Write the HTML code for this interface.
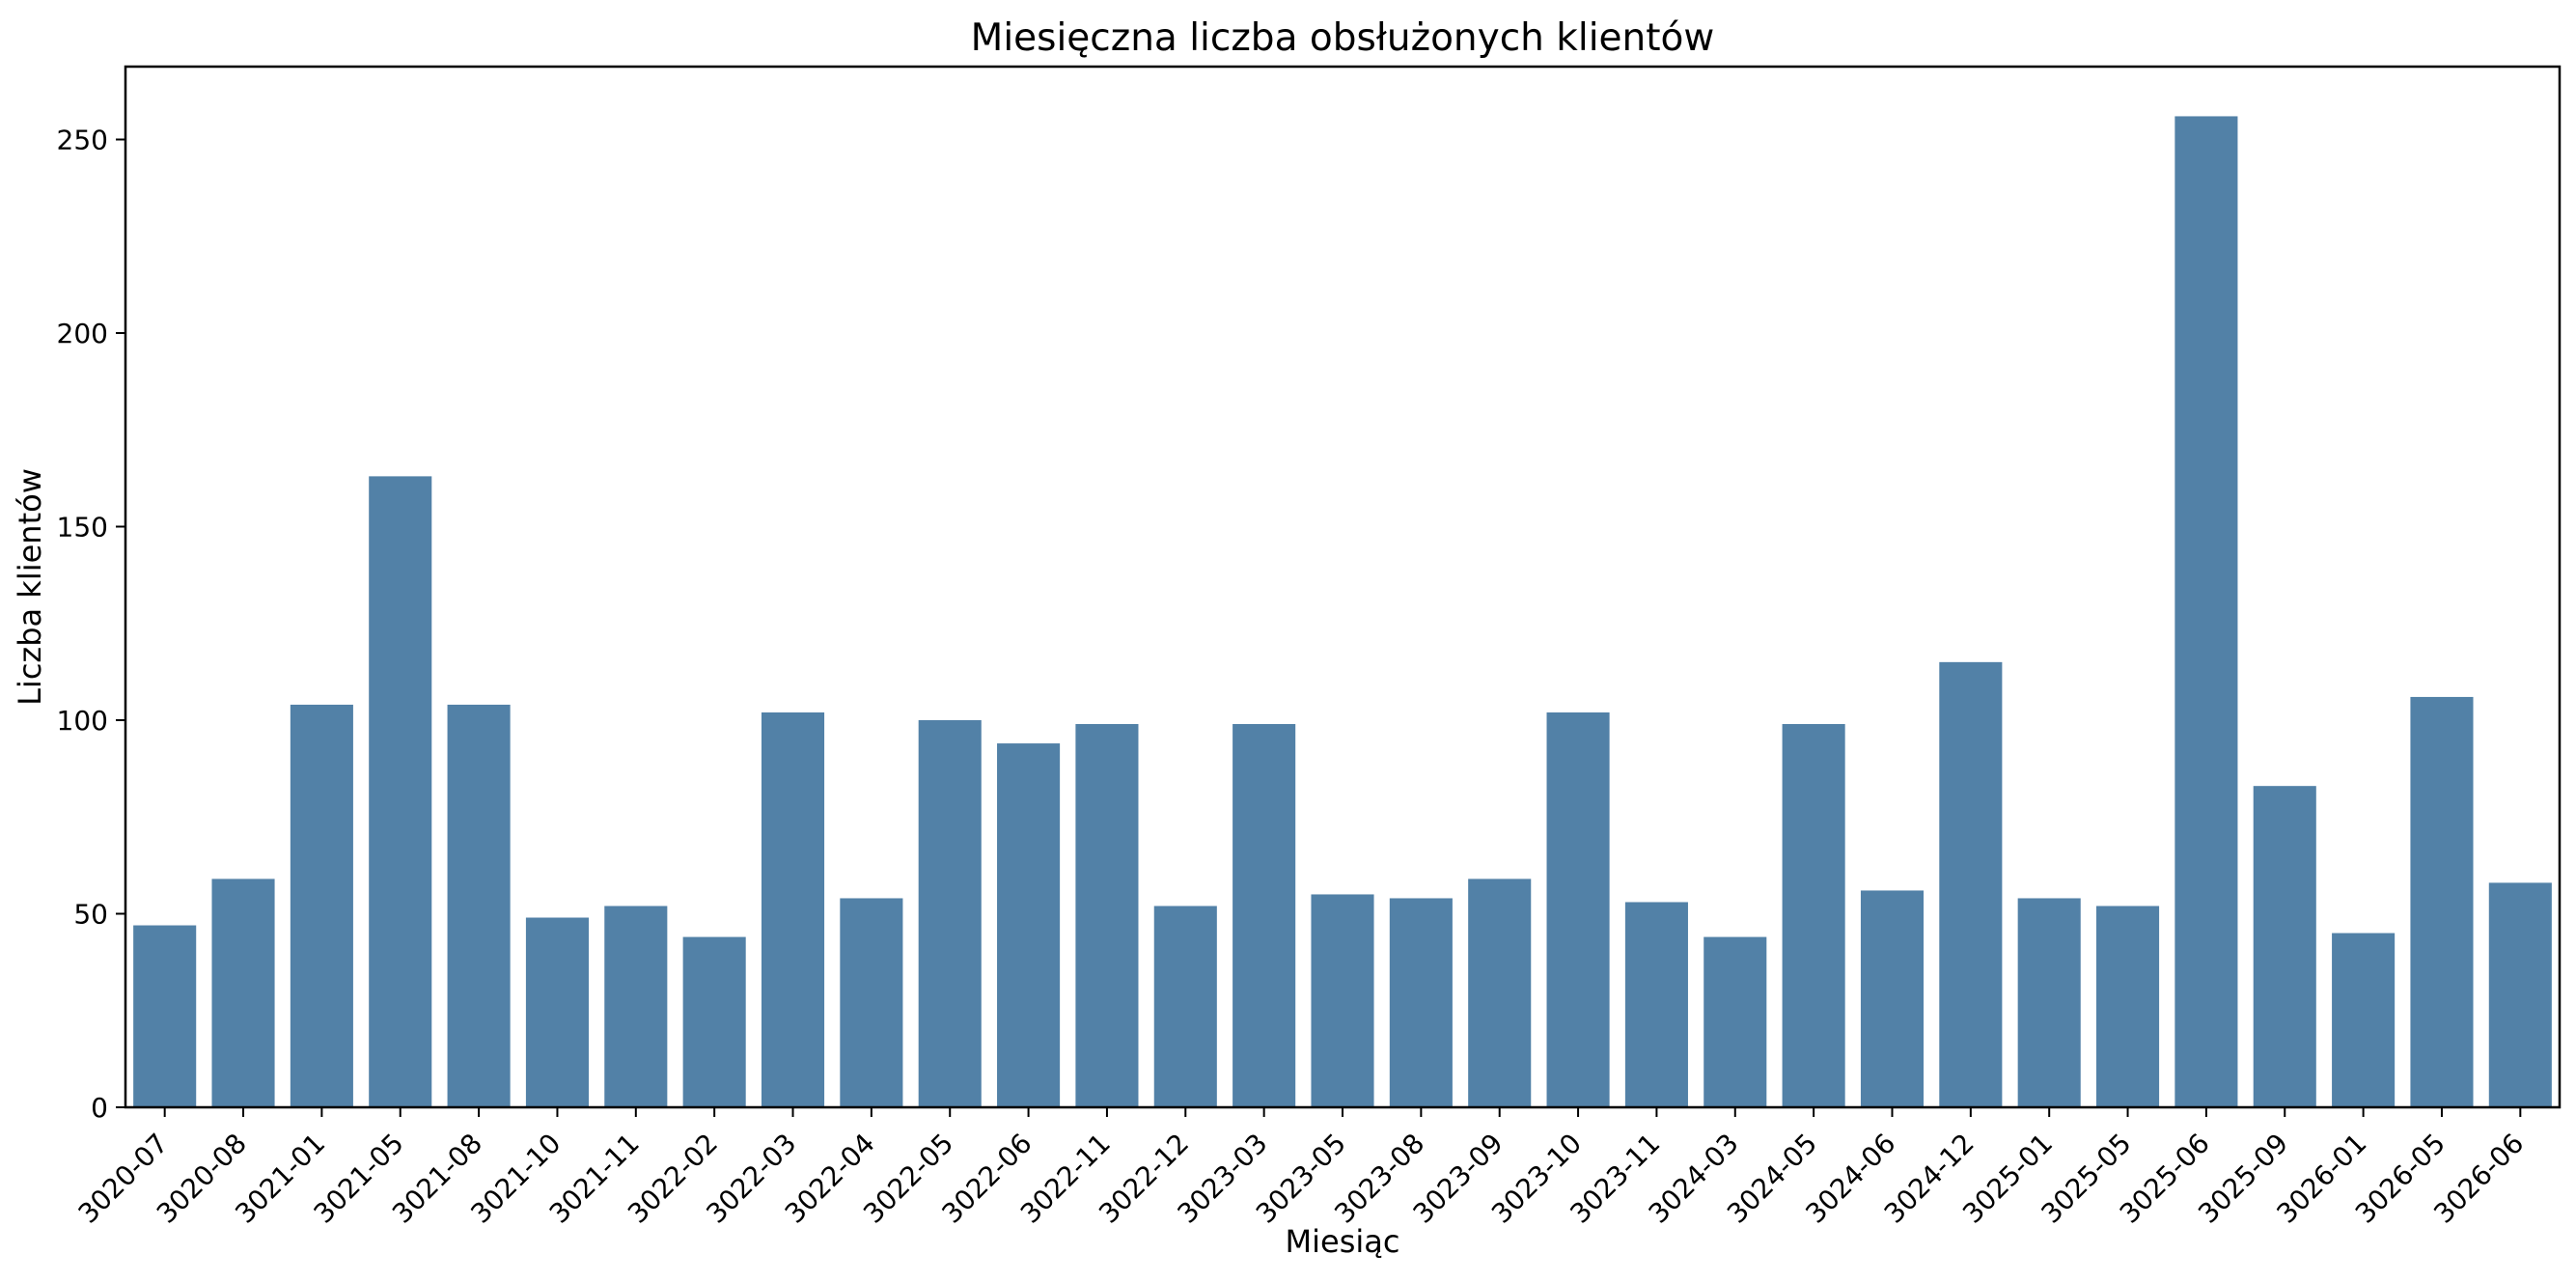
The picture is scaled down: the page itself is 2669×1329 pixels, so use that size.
<!DOCTYPE html>
<html><head><meta charset="utf-8"><style>
html,body{margin:0;padding:0;background:#fff;}
svg text{font-family:"DejaVu Sans","Liberation Sans",sans-serif;fill:#000;}
</style></head><body>
<svg id="chart" width="2669" height="1324" xmlns="http://www.w3.org/2000/svg">
<rect x="0" y="0" width="2669" height="1324" fill="#fff"/>
<text x="1391" y="52" font-size="39" text-anchor="middle">Miesięczna liczba obsłużonych klientów</text>
<text x="1391" y="1297" font-size="32" text-anchor="middle">Miesiąc</text>
<text x="0" y="0" font-size="32" text-anchor="middle" transform="translate(42,608) rotate(-90)">Liczba klientów</text>
<g id="bars"></g>
<g id="xticks"></g>
<g id="yticks"></g>
<rect x="130" y="69" width="2522" height="1078" fill="none" stroke="#000" stroke-width="2.5"/>
</svg>
<script>
const categories = ["3020-07","3020-08","3021-01","3021-05","3021-08","3021-10","3021-11","3022-02","3022-03","3022-04","3022-05","3022-06","3022-11","3022-12","3023-03","3023-05","3023-08","3023-09","3023-10","3023-11","3024-03","3024-05","3024-06","3024-12","3025-01","3025-05","3025-06","3025-09","3026-01","3026-05","3026-06"];
const values = [47,59,104,163,104,49,52,44,102,54,100,94,99,52,99,55,54,59,102,53,44,99,56,115,54,52,256,83,45,106,58];
const yTicks = [0,50,100,150,200,250];

const NS = "http://www.w3.org/2000/svg";
const y0 = 1147, pxPerUnit = (1147 - 144.5) / 250;
const left = 130, right = 2652;
const step = (right - left) / categories.length, barW = step * 0.8;
function yScale(v){ return y0 - v * pxPerUnit; }
function xScale(i){ return left + (i + 0.5) * step; }

const bars = document.getElementById('bars');
const xt = document.getElementById('xticks');
const yt = document.getElementById('yticks');

values.forEach((v, i) => {
  const r = document.createElementNS(NS, 'rect');
  
  
  r.setAttribute('x', xScale(i) - barW / 2);
  r.setAttribute('y', yScale(v));
  r.setAttribute('width', barW);
  r.setAttribute('height', y0 - yScale(v));
  r.setAttribute('fill', '#5281a7');
  bars.appendChild(r);
});

categories.forEach((c, i) => {
  const x = xScale(i);
  const l = document.createElementNS(NS, 'line');
  
  
  l.setAttribute('x1', x); l.setAttribute('x2', x);
  l.setAttribute('y1', y0); l.setAttribute('y2', y0 + 10);
  l.setAttribute('stroke', '#000'); l.setAttribute('stroke-width', '2');
  xt.appendChild(l);
  const t = document.createElementNS(NS, 'text');
  
  
  t.setAttribute('font-size', '28');
  t.setAttribute('text-anchor', 'end');
  t.setAttribute('transform', 'translate(' + (x + 5) + ',' + 1186 + ') rotate(-45)');
  t.textContent = c;
  xt.appendChild(t);
});

yTicks.forEach(v => {
  const y = yScale(v);
  const l = document.createElementNS(NS, 'line');
  
  
  l.setAttribute('x1', 120); l.setAttribute('x2', 130);
  l.setAttribute('y1', y); l.setAttribute('y2', y);
  l.setAttribute('stroke', '#000'); l.setAttribute('stroke-width', '2');
  yt.appendChild(l);
  const t = document.createElementNS(NS, 'text');
  
  
  t.setAttribute('font-size', '28');
  t.setAttribute('text-anchor', 'end');
  t.setAttribute('x', 112);
  t.setAttribute('y', y + 10);
  t.textContent = v;
  yt.appendChild(t);
});
</script>
</body></html>
